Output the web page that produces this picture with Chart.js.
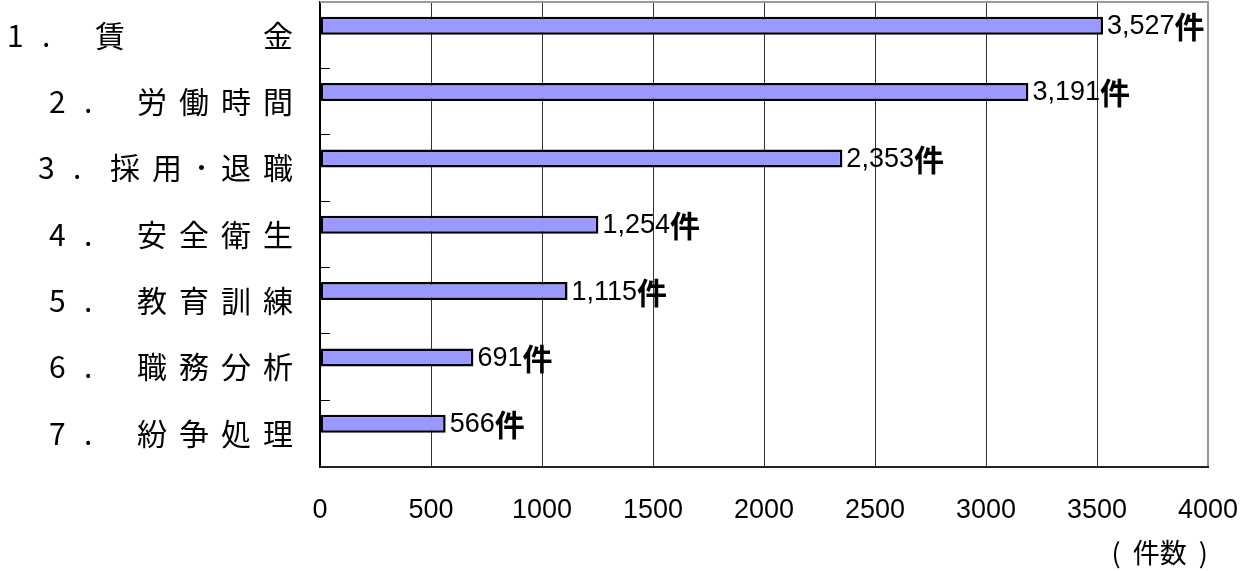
<!DOCTYPE html>
<html><head><meta charset="utf-8">
<script src="https://cdn.jsdelivr.net/npm/chart.js@4/dist/chart.umd.min.js"></script>
<style>html,body{margin:0;padding:0;background:#fff;}#wrap{width:1249px;height:571px;}</style>
</head><body><div id="wrap"><canvas id="c" width="1249" height="571"></canvas></div>
<script>
// ---- data ----
const categories = ['賃　　　金', '労働時間', '採用･退職', '安全衛生', '教育訓練', '職務分析', '紛争処理'];
const categoryNumbers = ['1', '2', '3', '4', '5', '6', '7'];
const counts = [3527, 3191, 2353, 1254, 1115, 691, 566];
const xMin = 0, xMax = 4000, xStep = 500;
const unitSuffix = '件';
const axisTitle = '(  件数  )';

const CJK = "'Noto Sans CJK JP', 'Noto Sans CJK SC', sans-serif";
const LAT = "'Liberation Sans', Arial, sans-serif";

const valueLabels = {
  id: 'valueLabels',
  afterDatasetsDraw(chart) {
    const ctx = chart.ctx;
    const meta = chart.getDatasetMeta(0);
    ctx.save();
    ctx.fillStyle = '#000';
    ctx.textBaseline = 'middle';
    ctx.textAlign = 'left';
    meta.data.forEach((bar, i) => {
      const txt = counts[i].toLocaleString('en-US');
      let x = bar.x + 4;
      ctx.font = '27px ' + LAT;
      ctx.fillText(txt, x, bar.y + 1);
      x += ctx.measureText(txt).width;
      ctx.font = 'bold 30px ' + CJK;
      ctx.fillText(unitSuffix, x, bar.y + 1);
    });
    ctx.restore();
  }
};

const categoryLabels = {
  id: 'categoryLabels',
  afterDraw(chart) {
    const ctx = chart.ctx;
    const ys = chart.scales.y;
    const rightEdge = chart.chartArea.left - 27;
    const gap = 12;
    ctx.save();
    ctx.fillStyle = '#000';
    ctx.textBaseline = 'middle';
    ctx.textAlign = 'left';
    ctx.font = '30px ' + CJK;
    categories.forEach((name, i) => {
      const y = ys.getPixelForValue(i);
      const chars = Array.from(name);
      let x = rightEdge;
      for (let k = chars.length - 1; k >= 0; k--) {
        const w = ctx.measureText(chars[k]).width;
        x -= w;
        if (chars[k] !== '　') ctx.fillText(chars[k], x, y);
        if (k > 0) x -= gap;
      }
      const prefixGap = name.includes('･') ? 72 : 88;
      const nx = x - prefixGap;
      ctx.fillText(categoryNumbers[i], nx, y);
      ctx.fillText('.', nx + 35, y);
    });
    ctx.restore();
  }
};

const topFrame = {
  id: 'topFrame',
  afterDraw(chart) {
    const { ctx, chartArea } = chart;
    ctx.save();
    ctx.strokeStyle = '#999';
    ctx.lineWidth = 2;
    ctx.beginPath();
    ctx.moveTo(chartArea.left, chartArea.top);
    ctx.lineTo(chartArea.right + 1, chartArea.top);
    ctx.stroke();
    ctx.restore();
  }
};

new Chart(document.getElementById('c'), {
  type: 'bar',
  data: {
    labels: categories,
    datasets: [
      { data: counts, backgroundColor: '#9999FF', borderColor: '#000', borderWidth: 2.5, borderSkipped: false,
        barPercentage: 0.947, categoryPercentage: 0.5726 },
      { data: [], backgroundColor: '#9999FF', barPercentage: 0.947, categoryPercentage: 0.5726 }
    ]
  },
  options: {
    indexAxis: 'y',
    responsive: false,
    devicePixelRatio: 1,
    animation: false,
    layout: { padding: { left: 320, right: 41, top: 2, bottom: 0 } },
    plugins: { legend: { display: false }, tooltip: { enabled: false } },
    scales: {
      x: {
        type: 'linear', position: 'bottom', min: xMin, max: xMax,
        ticks: { stepSize: xStep, color: '#000', font: { family: LAT, size: 27 }, padding: 28, maxRotation: 0, autoSkip: false,
                 callback: v => String(v) },
        grid: {
          drawTicks: false,
          color: c => (c.tick && c.tick.value === xMax) ? '#999' : '#333',
          lineWidth: c => (c.tick && c.tick.value === xMax) ? 2 : 1
        },
        border: { color: '#222', width: 2 },
        title: { display: true, text: axisTitle, align: 'end', color: '#000', font: { family: CJK, size: 27 }, padding: { top: 0, bottom: 2 } },
        afterFit: s => { s.height = 104.5; s.paddingLeft = 0; s.paddingRight = 0; }
      },
      y: {
        type: 'category', offset: true,
        ticks: { display: false },
        grid: { drawOnChartArea: false, drawTicks: true, tickLength: -10, color: '#000', lineWidth: 1, offset: true },
        border: { color: '#000', width: 2 },
        afterFit: s => { s.width = 0; s.paddingTop = 0; s.paddingBottom = 0; }
      }
    }
  },
  plugins: [valueLabels, categoryLabels, topFrame]
});
</script></body></html>
